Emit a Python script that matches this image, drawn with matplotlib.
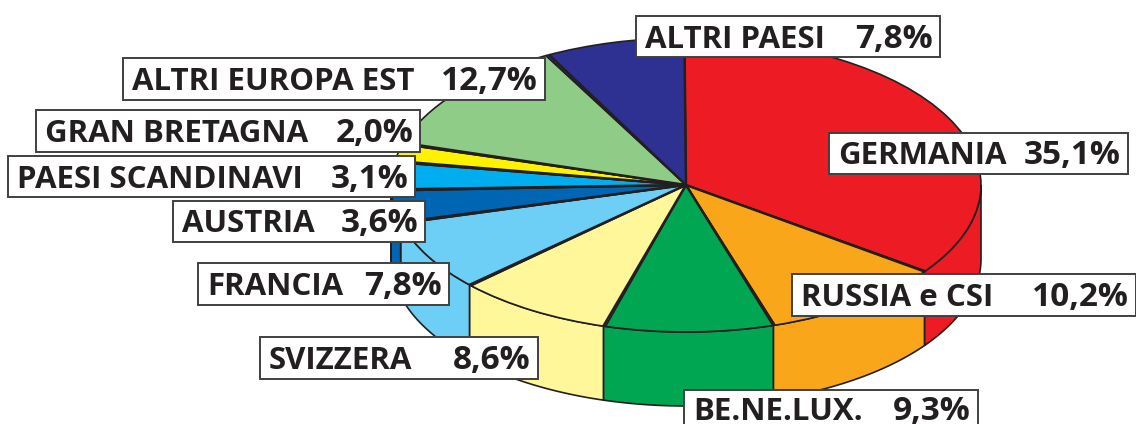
import numpy as np
import matplotlib
matplotlib.use("Agg")
import matplotlib.pyplot as plt
from matplotlib.patches import Rectangle

# export shares, clockwise from the top of the pie
paesi = ["GERMANIA", "RUSSIA e CSI", "BE.NE.LUX.", "SVIZZERA", "FRANCIA", "AUSTRIA",
         "PAESI SCANDINAVI", "GRAN BRETAGNA", "ALTRI EUROPA EST", "ALTRI PAESI"]
quote = [35.1, 10.2, 9.3, 8.6, 7.8, 3.6, 3.1, 2.0, 12.7, 7.8]
quote_txt = ["35,1%", "10,2%", "9,3%", "8,6%", "7,8%", "3,6%", "3,1%", "2,0%", "12,7%", "7,8%"]
colori = ["#ed1c24", "#f9a61a", "#00a651", "#fff799", "#6dcff6", "#0066b3",
          "#00aeef", "#fff200", "#8fcc87", "#2e3192"]

# label boxes in pixels: left, top, right, bottom
box = [(829, 133, 1128, 174), (792, 274, 1136, 316), (684, 390, 978, 429), (260, 337, 538, 379),
       (198, 263, 449, 305), (173, 201, 425, 242), (8, 156, 415, 197), (36, 110, 420, 152),
       (123, 58, 545, 100), (636, 16, 940, 57)]

W, H = 1136, 424
cx, cy, rx, ry = 686, 185, 295, 147
depth = 74 / ry
start = 90.3
ink = "#231f20"

plt.rcParams["font.family"] = ["Open Sans", "DejaVu Sans"]
fig = plt.figure(figsize=(W / 100, H / 100), dpi=100)
ax = fig.add_axes([0, 0, 1, 1])

# top of the pie, squashed into an ellipse by the axes limits
wedges, _ = ax.pie(quote, colors=colori, startangle=start, counterclock=False, radius=1,
                   wedgeprops=dict(edgecolor=ink, linewidth=1.2))
for w in wedges:
    w.set_zorder(3)
ax.set_aspect("auto")
ax.set_xlim(-cx / rx, (W - cx) / rx)
ax.set_ylim(-(H - cy) / ry, cy / ry)

# side wall: only the part of each slice facing the viewer
bordi = start - 3.6 * np.concatenate([[0], np.cumsum(quote)])
for a0, a1, c in zip(bordi[:-1], bordi[1:], colori):
    hi = min(a0, 0)
    lo = max(a1, -180)
    if hi <= lo:
        continue
    t = np.radians(np.linspace(hi, lo, 80))
    xs = np.cos(t)
    ys = np.sin(t)
    ax.fill(np.r_[xs, xs[::-1]], np.r_[ys, ys[::-1] - depth], facecolor=c,
            edgecolor=ink, linewidth=1.2, zorder=2)

# heavier spokes between slices
for a in bordi[:-1]:
    t = np.radians(a)
    ax.plot([0, np.cos(t)], [0, np.sin(t)], color=ink, lw=1.8, zorder=4, solid_capstyle="butt")

# labels on a pixel overlay
lab = fig.add_axes([0, 0, 1, 1])
lab.set_xlim(0, W)
lab.set_ylim(H, 0)
lab.axis("off")
for nome, val, (x0, y0, x1, y1) in zip(paesi, quote_txt, box):
    lab.add_patch(Rectangle((x0, y0), x1 - x0, y1 - y0, facecolor="white", edgecolor="#404040", lw=1.4))
    base = (y0 + y1) / 2 + 11
    lab.text(x0 + 9, base, nome, ha="left", va="baseline", fontsize=22.5, fontweight="bold", color=ink)
    lab.text(x1 - 7, base, val, ha="right", va="baseline", fontsize=24, fontweight="bold", color=ink)

fig.savefig("out.png", dpi=100)
